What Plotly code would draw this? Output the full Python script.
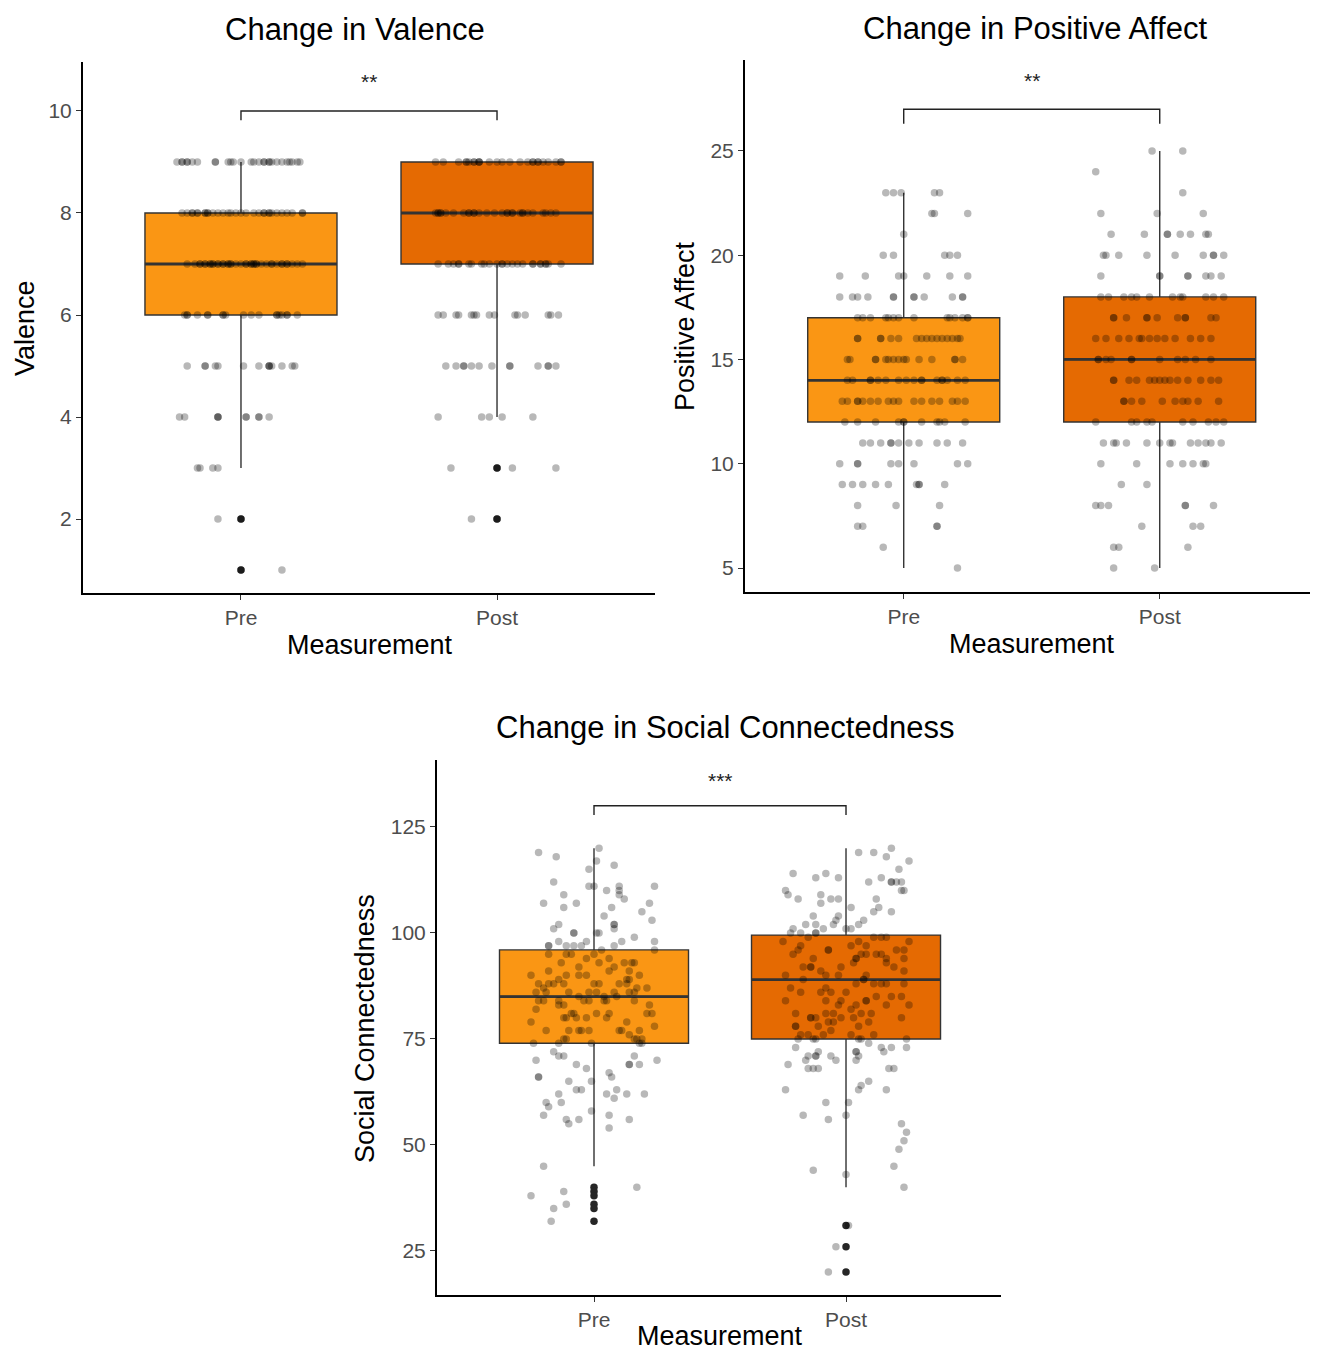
import plotly.graph_objects as go

# ---------------- data ----------------
GROUPS = ["Pre", "Post"]
PRE_COLOR = "#FA9614"
POST_COLOR = "#E56A02"

# Valence: box stats [lowerfence, q1, median, q3, upperfence]
VAL_PRE_STATS = [3, 6, 7, 8, 9]
VAL_POST_STATS = [4, 7, 8, 9, 9]
VAL_PRE_OUT = [2, 1]
VAL_POST_OUT = [3, 2]
# jittered points: value -> horizontal jitter offsets
VAL_PRE_ROWS = {
    9: [-0.25, -0.23, -0.23, -0.21, -0.21, -0.19, -0.17, -0.10, -0.10, -0.05, -0.04, -0.03, 0.00, 0.04, 0.05,
        0.07, 0.09, 0.09, 0.11, 0.11, 0.12, 0.14, 0.16, 0.18, 0.19, 0.20, 0.22, 0.23],
    8: [-0.23, -0.21, -0.19, -0.19, -0.17, -0.17, -0.14, -0.14, -0.13, -0.13, -0.11, -0.09, -0.07, -0.05, -0.04,
        -0.02, 0.00, 0.02, 0.05, 0.07, 0.09, 0.09, 0.11, 0.11, 0.12, 0.14, 0.16, 0.18, 0.20, 0.24, 0.24],
    7: [-0.21, -0.18, -0.16, -0.16, -0.14, -0.14, -0.12, -0.12, -0.11, -0.11, -0.09, -0.09, -0.07, -0.07, -0.05,
        -0.05, -0.04, -0.04, -0.02, 0.00, 0.02, 0.02, 0.04, 0.04, 0.05, 0.05, 0.06, 0.06, 0.08, 0.10, 0.12,
        0.12, 0.14, 0.16, 0.16, 0.18, 0.18, 0.20, 0.22, 0.24],
    6: [-0.22, -0.21, -0.21, -0.17, -0.13, -0.13, -0.07, -0.07, -0.06, 0.01, 0.04, 0.07, 0.14, 0.14, 0.15,
        0.16, 0.18, 0.18, 0.22],
    5: [-0.21, -0.14, -0.14, -0.10, -0.09, 0.01, 0.07, 0.11, 0.11, 0.11, 0.12, 0.16, 0.20, 0.21],
    4: [-0.24, -0.22, -0.09, -0.09, -0.09, 0.02, 0.02, 0.07, 0.07, 0.11],
    3: [-0.17, -0.16, -0.11, -0.09],
    2: [-0.09, 0.00],
    1: [0.00, 0.16],
}
VAL_POST_ROWS = {
    9: [-0.24, -0.21, -0.15, -0.12, -0.12, -0.11, -0.09, -0.09, -0.07, -0.07, -0.07, -0.03, 0.00, 0.02, 0.05,
        0.09, 0.12, 0.14, 0.14, 0.16, 0.16, 0.18, 0.20, 0.23, 0.25, 0.25],
    8: [-0.24, -0.23, -0.23, -0.22, -0.22, -0.20, -0.17, -0.13, -0.11, -0.11, -0.09, -0.09, -0.07, -0.04, -0.01,
        0.02, 0.04, 0.04, 0.06, 0.06, 0.09, 0.10, 0.10, 0.12, 0.14, 0.18, 0.19, 0.21, 0.23],
    7: [-0.23, -0.19, -0.17, -0.15, -0.15, -0.11, -0.10, -0.06, -0.05, -0.03, 0.00, 0.02, 0.02, 0.04, 0.06,
        0.08, 0.10, 0.14, 0.14, 0.17, 0.17, 0.19, 0.19, 0.20, 0.25],
    6: [-0.23, -0.21, -0.16, -0.15, -0.10, -0.09, -0.08, -0.03, -0.01, 0.07, 0.08, 0.11, 0.20, 0.21, 0.24],
    5: [-0.20, -0.16, -0.13, -0.13, -0.10, -0.07, -0.02, 0.05, 0.05, 0.16, 0.20, 0.20, 0.23],
    4: [-0.23, -0.06, -0.03, 0.02, 0.14],
    3: [-0.18, 0.00, 0.06, 0.23],
    2: [-0.10, 0.00],
}

# Positive Affect
PA_PRE_STATS = [5, 12, 14, 17, 23]
PA_POST_STATS = [5, 12, 15, 18, 25]
PA_PRE_ROWS = {
    23: [-0.07, -0.04, -0.01, 0.12, 0.14],
    22: [0.11, 0.12, 0.25],
    21: [0.00],
    20: [-0.08, -0.04, 0.16, 0.18, 0.21],
    19: [-0.25, -0.15, -0.02, 0.00, 0.09, 0.18, 0.25],
    18: [-0.25, -0.20, -0.18, -0.14, -0.04, -0.04, 0.04, 0.04, 0.08, 0.19, 0.23, 0.23],
    17: [-0.18, -0.16, -0.13, -0.07, -0.06, -0.04, -0.02, 0.04, 0.17, 0.18, 0.20, 0.23, 0.25, 0.25],
    16: [-0.18, -0.18, -0.09, -0.09, -0.05, -0.02, 0.05, 0.07, 0.09, 0.11, 0.13, 0.15, 0.17, 0.19, 0.21, 0.22],
    15: [-0.22, -0.21, -0.11, -0.11, -0.07, -0.06, -0.04, -0.02, 0.00, 0.01, 0.06, 0.11, 0.20, 0.20, 0.23],
    14: [-0.22, -0.20, -0.13, -0.13, -0.10, -0.07, -0.02, 0.01, 0.04, 0.07, 0.07, 0.13, 0.15, 0.15, 0.17,
         0.21, 0.24],
    13: [-0.24, -0.22, -0.18, -0.18, -0.16, -0.13, -0.10, -0.06, -0.04, -0.02, 0.04, 0.07, 0.11, 0.14, 0.19,
         0.21, 0.24],
    12: [-0.23, -0.18, -0.11, -0.02, 0.00, 0.00, 0.07, 0.13, 0.14, 0.16, 0.24],
    11: [-0.16, -0.13, -0.09, -0.05, -0.05, -0.02, 0.02, 0.06, 0.13, 0.17, 0.23],
    10: [-0.25, -0.18, -0.18, -0.05, -0.02, 0.04, 0.21, 0.25],
    9: [-0.24, -0.20, -0.16, -0.11, -0.06, 0.05, 0.06, 0.06, 0.16],
    8: [-0.18, -0.03, 0.14],
    7: [-0.18, -0.16, 0.13, 0.13],
    6: [-0.08],
    5: [0.21],
}
PA_POST_ROWS = {
    25: [-0.03, 0.09],
    24: [-0.25],
    23: [0.09],
    22: [-0.23, -0.01, 0.17],
    21: [-0.19, -0.06, 0.03, 0.03, 0.08, 0.12, 0.18, 0.19],
    20: [-0.22, -0.21, -0.16, -0.05, 0.06, 0.17, 0.21, 0.21, 0.25],
    19: [-0.23, 0.00, 0.00, 0.11, 0.11, 0.18, 0.20, 0.24],
    18: [-0.23, -0.20, -0.14, -0.11, -0.09, -0.04, 0.05, 0.08, 0.09, 0.18, 0.21, 0.25],
    17: [-0.18, -0.18, -0.13, -0.05, -0.05, -0.01, 0.07, 0.10, 0.10, 0.20, 0.22],
    16: [-0.25, -0.21, -0.16, -0.12, -0.08, -0.07, -0.04, -0.01, 0.02, 0.06, 0.12, 0.16, 0.20],
    15: [-0.24, -0.24, -0.21, -0.19, -0.11, -0.11, 0.00, 0.07, 0.10, 0.14, 0.20],
    14: [-0.18, -0.18, -0.12, -0.09, -0.04, -0.02, 0.00, 0.02, 0.04, 0.07, 0.11, 0.16, 0.20, 0.23],
    13: [-0.14, -0.14, -0.11, -0.07, 0.01, 0.06, 0.09, 0.11, 0.15, 0.23],
    12: [-0.25, -0.11, -0.09, -0.05, -0.03, 0.09, 0.13, 0.19, 0.22, 0.25],
    11: [-0.22, -0.18, -0.17, -0.13, -0.05, 0.00, 0.04, 0.05, 0.12, 0.15, 0.18, 0.20, 0.24],
    10: [-0.23, -0.09, 0.04, 0.09, 0.13, 0.17, 0.18],
    9: [-0.15, -0.05],
    8: [-0.25, -0.23, -0.20, 0.10, 0.10, 0.21],
    7: [-0.07, 0.13, 0.16],
    6: [-0.18, -0.16, 0.11],
    5: [-0.18, -0.02],
}

# Social Connectedness
SC_PRE_STATS = [45, 74, 85, 96, 120]
SC_POST_STATS = [40, 75, 89, 99.5, 120]
SC_PRE_OUT = [40, 39, 38, 36, 35, 32]
SC_POST_OUT = [31, 26, 20]
SC_PRE_PTS = [
    (-0.22, 119), (-0.15, 118), (0.02, 120), (0.01, 117), (0.08, 116), (-0.02, 115), (-0.16, 112), (-0.02, 111),
    (0.00, 111), (0.05, 110), (0.10, 111), (0.10, 110), (0.10, 109), (0.12, 108), (0.24, 111), (-0.12, 109),
    (-0.20, 107), (-0.07, 107), (-0.12, 106), (0.22, 107), (0.07, 106), (0.19, 105), (0.04, 104), (0.23, 103),
    (0.08, 102), (0.08, 102), (-0.14, 102), (-0.16, 101), (-0.08, 100), (-0.08, 100), (0.01, 100), (0.02, 100),
    (0.08, 101), (0.16, 99), (0.11, 98), (-0.14, 98), (-0.03, 98), (-0.05, 97), (-0.08, 97), (-0.11, 97),
    (-0.18, 97), (-0.18, 97), (0.24, 98), (0.24, 96), (0.03, 96), (0.08, 97),
    (-0.18, 95), (-0.11, 95), (-0.09, 95), (-0.03, 94), (0.00, 95), (0.02, 93), (0.06, 94), (0.08, 92),
    (0.12, 93), (0.15, 93), (0.16, 93), (-0.13, 93), (-0.06, 92), (-0.25, 90), (-0.18, 91), (-0.14, 89),
    (-0.11, 90), (-0.06, 90), (-0.03, 90), (0.06, 91), (0.14, 91), (0.18, 90), (0.14, 89), (0.13, 89),
    (-0.22, 88), (-0.20, 87), (-0.18, 88), (-0.16, 88), (-0.12, 88), (0.00, 88), (0.02, 88), (0.10, 88),
    (0.13, 88), (0.17, 87), (0.21, 87), (-0.23, 86), (-0.19, 86), (-0.10, 86), (-0.06, 85), (-0.02, 86),
    (0.01, 86), (0.04, 85), (0.09, 85), (0.08, 86), (0.14, 86), (0.16, 86), (-0.22, 84), (-0.20, 84),
    (-0.14, 84), (-0.04, 84), (-0.02, 84), (0.04, 84), (0.05, 84), (0.16, 84), (0.22, 83), (-0.14, 83),
    (-0.12, 83), (-0.23, 82), (-0.09, 81), (-0.08, 81), (-0.12, 80), (-0.11, 80), (-0.07, 80), (-0.03, 80),
    (0.01, 81), (0.05, 80), (0.06, 81), (0.21, 81), (0.23, 81), (-0.25, 79), (0.13, 79), (0.24, 78),
    (-0.19, 77), (-0.10, 77), (-0.06, 77), (-0.05, 77), (-0.02, 77), (0.10, 77), (0.11, 77), (0.18, 77),
    (0.14, 76), (0.16, 75), (0.19, 75), (-0.11, 75), (-0.12, 75), (-0.24, 74), (-0.14, 74), (-0.01, 74),
    (0.19, 74),
    (0.17, 75), (0.18, 74), (-0.16, 72), (-0.14, 71), (-0.12, 71), (0.16, 71), (-0.23, 70), (-0.07, 69),
    (-0.03, 68), (0.14, 69), (0.14, 69), (0.18, 69), (0.25, 70), (-0.22, 66), (-0.22, 66), (0.06, 67),
    (0.07, 66), (-0.10, 65), (-0.01, 65), (-0.07, 63), (-0.05, 63), (-0.14, 62), (0.05, 62), (0.09, 63),
    (0.13, 62), (0.20, 62), (0.08, 61), (-0.19, 60), (-0.18, 59), (-0.13, 60), (-0.20, 57), (-0.01, 58),
    (0.06, 57), (-0.11, 56), (-0.10, 55), (-0.06, 56), (0.14, 56), (0.06, 54), (-0.20, 45), (-0.25, 38),
    (-0.12, 39), (-0.16, 35), (-0.11, 36), (-0.17, 32), (0.17, 40),
]
SC_POST_PTS = [
    (0.05, 119), (0.11, 119), (0.18, 120), (0.16, 118), (0.25, 117), (0.21, 115), (-0.21, 114), (-0.08, 114),
    (-0.12, 113), (-0.03, 113), (0.09, 112), (0.14, 113), (0.18, 112), (0.18, 112), (0.20, 112), (0.22, 112),
    (0.22, 110), (0.23, 110), (-0.24, 110), (-0.23, 109), (-0.19, 108), (-0.10, 109), (-0.10, 107),
    (-0.06, 108), (-0.03, 108), (0.02, 106), (0.12, 108), (0.13, 106), (0.11, 105), (0.18, 105), (-0.13, 104),
    (-0.03, 104), (-0.04, 103), (0.07, 103), (0.05, 102), (0.02, 101), (-0.16, 102), (-0.12, 102),
    (-0.09, 101), (-0.21, 101), (-0.05, 102), (-0.12, 100), (-0.12, 100), (-0.18, 100), (0.00, 101),
    (-0.22, 100),
    (-0.25, 98), (-0.15, 99), (0.11, 99), (0.14, 99), (0.16, 99), (0.25, 98), (-0.18, 97), (0.05, 98),
    (-0.07, 96), (-0.07, 96), (0.02, 97), (0.08, 97), (0.20, 96), (0.23, 96), (-0.19, 96), (-0.21, 95),
    (-0.13, 94), (0.04, 94), (0.04, 94), (0.06, 95), (0.08, 95), (0.12, 95), (0.14, 95), (0.16, 94),
    (0.23, 94), (-0.14, 92), (-0.14, 92), (-0.17, 92), (-0.10, 91), (-0.02, 92), (0.03, 93), (0.16, 93),
    (0.19, 92), (0.23, 91), (-0.24, 90), (-0.17, 89), (-0.08, 90), (-0.03, 90), (0.08, 90), (0.07, 89),
    (0.07, 89), (0.11, 88), (0.14, 88), (0.16, 88), (0.23, 88), (-0.22, 87), (-0.08, 87), (0.04, 88),
    (-0.18, 86), (-0.10, 86), (-0.06, 86), (0.00, 86), (0.12, 85), (0.18, 85), (0.22, 85), (-0.24, 84),
    (-0.08, 84), (-0.02, 84), (-0.03, 83), (0.08, 84), (0.08, 84), (0.16, 83), (0.25, 83), (0.02, 82),
    (0.04, 83), (-0.20, 81), (-0.08, 81), (-0.05, 81), (0.06, 81), (0.10, 81), (-0.14, 80), (-0.14, 80),
    (-0.12, 80), (-0.02, 80), (0.03, 80), (0.22, 80), (-0.07, 79), (-0.05, 79), (0.09, 79), (-0.20, 78),
    (-0.20, 78), (-0.11, 78), (0.05, 78), (-0.18, 76), (-0.15, 76), (-0.09, 76), (-0.06, 77), (0.02, 76),
    (0.11, 76), (-0.13, 75), (-0.19, 75), (0.05, 75), (0.24, 75),
    (-0.20, 73), (-0.12, 75), (0.06, 75), (0.09, 74), (0.14, 73), (0.18, 73), (0.24, 73), (-0.11, 72),
    (-0.15, 71), (-0.12, 71), (-0.12, 71), (-0.06, 71), (0.04, 72), (0.04, 72), (0.05, 71), (0.15, 72),
    (-0.23, 69), (-0.16, 70), (-0.04, 70), (0.04, 70), (-0.15, 68), (-0.13, 68), (-0.11, 68), (0.17, 68),
    (0.19, 68), (0.09, 65), (0.06, 64), (0.05, 63), (-0.24, 63), (0.16, 63), (-0.08, 60), (0.01, 60),
    (-0.17, 57), (-0.07, 56), (0.00, 57), (0.22, 55), (0.24, 53), (0.23, 51), (0.21, 49), (0.19, 45),
    (-0.13, 44), (0.00, 43), (0.23, 40), (-0.04, 26), (-0.07, 20), (0.01, 31),
]

TITLES = ["Change in Valence", "Change in Positive Affect", "Change in Social Connectedness"]
Y_TITLES = ["Valence", "Positive Affect", "Social Connectedness"]
X_TITLE = "Measurement"
Y_TICKS = [[2, 4, 6, 8, 10], [5, 10, 15, 20, 25], [25, 50, 75, 100, 125]]
SIG_LABELS = ["**", "**", "***"]
SIG_LEVEL = [10, 27, 130]          # y of bracket
SIG_DROP = [0.18, 0.7, 2.2]        # bracket leg length (data units)
SIG_TEXT_Y = [10.57, 28.4, 136.0]

# ---------------- figure ----------------
OFF = 8                      # page body margin
W, H = 1303, 1345
FONT = "Liberation Sans, Arial, sans-serif"
BOX_W = 0.75
JIT_COLOR = "rgba(0,0,0,0.28)"
OUT_COLOR = "rgb(38,38,38)"
LINE_COLOR = "#333333"

# panel page-pixel boxes: (left, right, top, bottom)
PANELS = [(83, 655, 62, 593), (745, 1310, 60, 592), (437, 1001, 760, 1295)]
Y_RANGES = [[0.55, 10.96], [3.85, 29.36], [14.6, 140.8]]
X_RANGES = [[-0.617, 1.617], [-0.62, 1.587], [-0.623, 1.615]]
TITLE_POS = [(355, 30), (1035, 28), (725, 728)]
# x-axis title: (x centre, y, anchor)
XT_POS = [(370, 645, "middle"), (1032, 644, "middle"), (720, 1353, "bottom")]
YT_POS = [(25, 328), (685, 326), (365, 1028)]


def fx(px):
    return (px - OFF) / W


def fy(py):
    return 1 - (py - OFF) / H


fig = go.Figure()


def rows_to_xy(rows, pos):
    xs, ys = [], []
    for val, offs in rows.items():
        for o in offs:
            xs.append(pos + o)
            ys.append(val)
    return xs, ys


def add_box(stats, color, pos, ax):
    xa, ya = ax
    lf, q1, med, q3, uf = stats
    fig.add_trace(go.Box(
        x=[pos], q1=[q1], median=[med], q3=[q3], lowerfence=[lf], upperfence=[uf],
        width=BOX_W, fillcolor=color, line=dict(color=LINE_COLOR, width=1.4),
        whiskerwidth=0, boxpoints=False, showlegend=False, hoverinfo="skip",
        xaxis=xa, yaxis=ya))
    fig.add_trace(go.Scatter(
        x=[pos - BOX_W / 2, pos + BOX_W / 2], y=[med, med], mode="lines",
        line=dict(color=LINE_COLOR, width=2.8), showlegend=False, hoverinfo="skip",
        xaxis=xa, yaxis=ya))


def add_outliers(vals, pos, ax):
    fig.add_trace(go.Scatter(
        x=[pos] * len(vals), y=vals, mode="markers",
        marker=dict(color=OUT_COLOR, size=7.5, line=dict(width=0)),
        showlegend=False, hoverinfo="skip", xaxis=ax[0], yaxis=ax[1]))


def add_jitter(xs, ys, ax):
    fig.add_trace(go.Scatter(
        x=xs, y=ys, mode="markers",
        marker=dict(color=JIT_COLOR, size=7.5, line=dict(width=0)),
        showlegend=False, hoverinfo="skip", xaxis=ax[0], yaxis=ax[1]))


AXES = [("x", "y"), ("x2", "y2"), ("x3", "y3")]

# Panel 1: Valence
add_box(VAL_PRE_STATS, PRE_COLOR, 0, AXES[0])
add_box(VAL_POST_STATS, POST_COLOR, 1, AXES[0])
add_outliers(VAL_PRE_OUT, 0, AXES[0])
add_outliers(VAL_POST_OUT, 1, AXES[0])
xs, ys = rows_to_xy(VAL_PRE_ROWS, 0)
add_jitter(xs, ys, AXES[0])
xs, ys = rows_to_xy(VAL_POST_ROWS, 1)
add_jitter(xs, ys, AXES[0])

# Panel 2: Positive Affect
add_box(PA_PRE_STATS, PRE_COLOR, 0, AXES[1])
add_box(PA_POST_STATS, POST_COLOR, 1, AXES[1])
xs, ys = rows_to_xy(PA_PRE_ROWS, 0)
add_jitter(xs, ys, AXES[1])
xs, ys = rows_to_xy(PA_POST_ROWS, 1)
add_jitter(xs, ys, AXES[1])

# Panel 3: Social Connectedness
add_box(SC_PRE_STATS, PRE_COLOR, 0, AXES[2])
add_box(SC_POST_STATS, POST_COLOR, 1, AXES[2])
add_outliers(SC_PRE_OUT, 0, AXES[2])
add_outliers(SC_POST_OUT, 1, AXES[2])
add_jitter([0 + d for d, v in SC_PRE_PTS], [v for d, v in SC_PRE_PTS], AXES[2])
add_jitter([1 + d for d, v in SC_POST_PTS], [v for d, v in SC_POST_PTS], AXES[2])

annotations = []
layout_axes = {}
for i, (ax, (l, r, t, b)) in enumerate(zip(AXES, PANELS)):
    sx = "" if i == 0 else str(i + 1)
    lvl, drop = SIG_LEVEL[i], SIG_DROP[i]
    fig.add_trace(go.Scatter(
        x=[0, 0, 1, 1], y=[lvl - drop, lvl, lvl, lvl - drop], mode="lines",
        line=dict(color="#222222", width=1.4), showlegend=False, hoverinfo="skip",
        xaxis=ax[0], yaxis=ax[1]))
    annotations.append(dict(x=0.5, y=SIG_TEXT_Y[i], xref=ax[0], yref=ax[1], text=SIG_LABELS[i],
                            showarrow=False, xanchor="center", yanchor="middle",
                            font=dict(size=21, color="#222222", family=FONT)))
    axis_common = dict(showline=True, linecolor="black", linewidth=2, ticks="outside", ticklen=5,
                       tickwidth=1.4, tickcolor="#333333", showgrid=False, zeroline=False,
                       tickfont=dict(size=21, color="#4d4d4d", family=FONT))
    layout_axes["xaxis" + sx] = dict(axis_common, domain=[fx(l), min(fx(r), 1.0)], range=X_RANGES[i],
                                     tickvals=[0, 1], ticktext=GROUPS, anchor="y" + sx)
    layout_axes["yaxis" + sx] = dict(axis_common, domain=[fy(b), fy(t)], range=Y_RANGES[i],
                                     tickvals=Y_TICKS[i], anchor="x" + sx)
    annotations.append(dict(x=fx(TITLE_POS[i][0]), y=fy(TITLE_POS[i][1]), xref="paper", yref="paper",
                            text=TITLES[i], showarrow=False, xanchor="center", yanchor="middle",
                            font=dict(size=31, color="black", family=FONT)))
    annotations.append(dict(x=fx(XT_POS[i][0]), y=fy(XT_POS[i][1]), xref="paper", yref="paper",
                            text=X_TITLE, showarrow=False, xanchor="center", yanchor=XT_POS[i][2],
                            font=dict(size=27, color="black", family=FONT)))
    annotations.append(dict(x=fx(YT_POS[i][0]), y=fy(YT_POS[i][1]), xref="paper", yref="paper",
                            text=Y_TITLES[i], showarrow=False, textangle=-90,
                            xanchor="center", yanchor="middle",
                            font=dict(size=27, color="black", family=FONT)))

fig.update_layout(
    width=W, height=H, margin=dict(l=0, r=0, t=0, b=0),
    paper_bgcolor="white", plot_bgcolor="white", showlegend=False,
    boxmode="overlay", annotations=annotations, **layout_axes)

fig.write_html("out.html")
